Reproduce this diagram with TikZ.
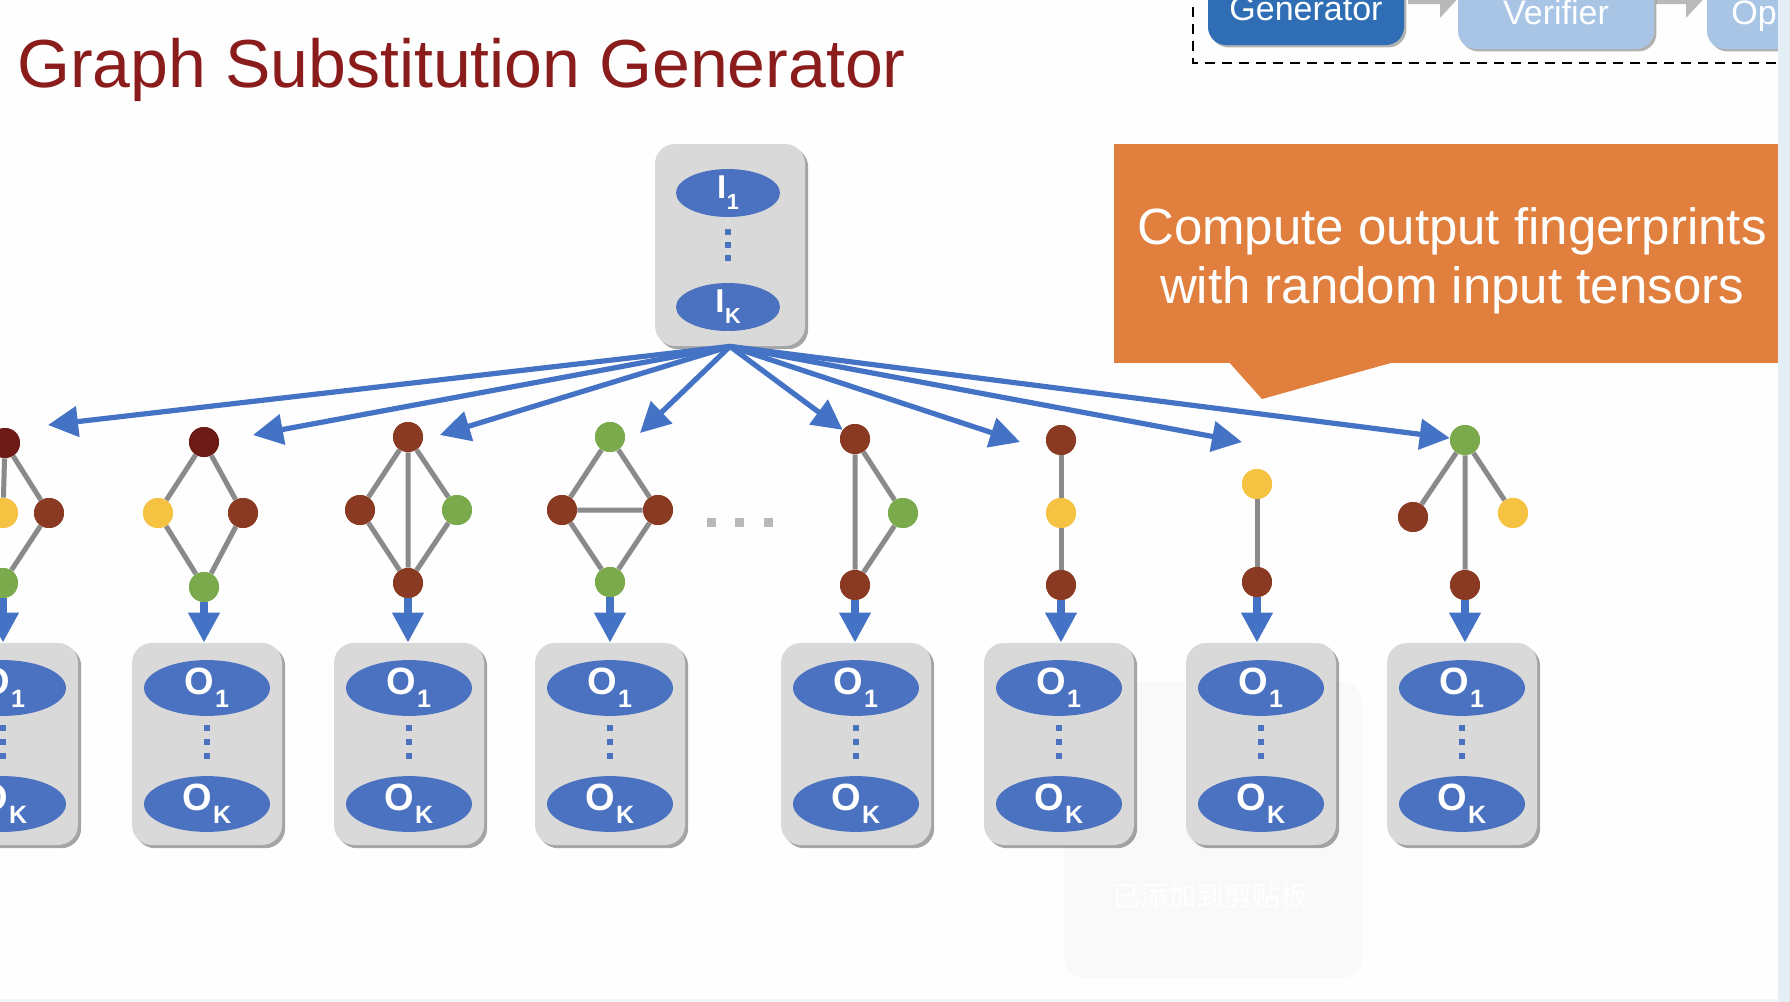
\documentclass[tikz,border=0pt]{standalone}
\usepackage{fontspec}
\usepackage{graphicx}
\setmainfont{Liberation Sans}
\newfontfamily\cjkfont{Noto Sans CJK SC}
\usetikzlibrary{shapes.geometric,arrows.meta,shadows}

\definecolor{titlered}{HTML}{8B1C1C}
\definecolor{arrowblue}{HTML}{4472C4}
\definecolor{ellblue}{HTML}{4A72C0}
\definecolor{boxgray}{HTML}{D9D9D9}
\definecolor{calloutorange}{HTML}{E07F3E}
\definecolor{genblue}{HTML}{2F6EB5}
\definecolor{verblue}{HTML}{A9C5E6}
\definecolor{darkred}{HTML}{6E1A16}
\definecolor{nodebrown}{HTML}{8A3A22}
\definecolor{nodeyellow}{HTML}{F5C242}
\definecolor{nodegreen}{HTML}{7AAA4C}
\definecolor{edgegray}{HTML}{8A8A8A}
\definecolor{dotgray}{HTML}{B8B8B8}
\definecolor{stripblue}{HTML}{E4EEF5}
\definecolor{pagebg}{HTML}{FEFEFE}
\definecolor{toastgray}{HTML}{F9F9F9}

% letter with a lowered, smaller index
\newcommand\iosub[2]{#1\kern0.3pt\raisebox{-0.34em}{\scalebox{0.66}{#2}}}

\begin{document}
\begin{tikzpicture}[x=0.5pt,y=-0.5pt,
  gn/.style={circle, inner sep=0pt, minimum size=15pt, fill=#1},
  gedge/.style={draw=edgegray, line width=2.5pt},
  fan/.style={draw=arrowblue, line width=2.6pt, -{Triangle[length=15pt,width=15pt]}},
  downarrow/.style={draw=arrowblue, line width=3.6pt, -{Triangle[length=15pt,width=15pt]}},
  iobox/.style={rectangle, rounded corners=10pt, fill=boxgray, minimum width=75pt,
    minimum height=101pt, inner sep=0pt,
    drop shadow={shadow xshift=1.6pt, shadow yshift=-1.6pt, fill=black, opacity=0.35}},
  inell/.style={ellipse, fill=ellblue, minimum width=52pt, minimum height=22pt, inner sep=0pt,
    text=white, font=\bfseries\fontsize{16.5}{16.5}\selectfont},
  outell/.style={ellipse, fill=ellblue, minimum width=63pt, minimum height=26.5pt, inner sep=0pt,
    text=white, font=\bfseries\fontsize{19}{19}\selectfont},
  button/.style={rectangle, rounded corners=9pt, inner sep=0pt, minimum width=98pt, minimum height=42pt,
    drop shadow={shadow xshift=1.2pt, shadow yshift=-1.2pt, fill=black, opacity=0.3}},
  btntext/.style={text=white, font=\fontsize{17}{17}\selectfont, inner sep=0pt, anchor=base},
]
\useasboundingbox (0,0) rectangle (1790,1002);
\fill[pagebg] (0,0) rectangle (1790,1002);

\begin{scope}
\clip (0,0) rectangle (1778,999);

% clipboard notice, lying under the slide content
\fill[toastgray, rounded corners=10pt] (1064,682) rectangle (1362,978);
\node[text=white, font=\cjkfont\fontsize{14}{14}\selectfont, inner sep=0pt] (toast) at (1210,896) {已添加到剪贴板};

% title
\node[anchor=base west, inner sep=0pt, text=titlered, font=\fontsize{34}{34}\selectfont]
  (title) at (17,87) {Graph Substitution Generator};

% pipeline strip at the top right
\draw[black, line width=1pt, dash pattern=on 5pt off 3.5pt] (1193,-10) -- (1193,63) -- (1800,63);
\fill[gray!55] (1408,-16) -- (1440,-16) -- (1440,-30) -- (1462,-6) -- (1440,18) -- (1440,4) -- (1408,4) -- cycle;
\fill[gray!55] (1656,-16) -- (1686,-16) -- (1686,-30) -- (1708,-6) -- (1686,18) -- (1686,4) -- (1656,4) -- cycle;
\node[button, fill=genblue] (gen) at (1306,3) {};
\node[button, fill=verblue] (ver) at (1556,7) {};
\node[button, fill=verblue] (opt) at (1805,7) {};
\node[btntext] (gentext) at (1306,20) {Generator};
\node[btntext] (vertext) at (1556,24) {Verifier};
\node[btntext, anchor=base west] (opttext) at (1731,24) {Op};

% input tensors
\node[iobox] (ib) at (730,245) {};
\node[inell] (i1) at (728,193) {\iosub{I}{1}};
\node[inell] (ik) at (728,307) {\iosub{I}{K}};
\foreach \yy in {232,245,258} \fill[ellblue] (725,\yy-3) rectangle (731,\yy+3);

% callout
\node[rectangle, fill=calloutorange, minimum width=332pt, minimum height=109.5pt, inner sep=0pt]
  (note) at (1446,253.5) {};
\fill[calloutorange] (1228,361) -- (1262,399) -- (1398,361) -- cycle;
\node[text=white, align=center, inner sep=0pt, font=\fontsize{25.5}{29.5}\selectfont]
  (notetext) at (1452,261) {Compute output fingerprints\\with random input tensors};

% candidate graphs
\node[gn=darkred]    (t0) at (5,443) {};
\node[gn=nodeyellow] (m0) at (3,513) {};
\node[gn=nodebrown]  (r0) at (49,513) {};
\node[gn=nodegreen]  (b0) at (3,583) {};

\node[gn=darkred]    (t1) at (204,442) {};
\node[gn=nodeyellow] (l1) at (158,513) {};
\node[gn=nodebrown]  (r1) at (243,513) {};
\node[gn=nodegreen]  (b1) at (204,587) {};

\node[gn=nodebrown]  (t2) at (408,437) {};
\node[gn=nodebrown]  (l2) at (360,510) {};
\node[gn=nodegreen]  (r2) at (457,510) {};
\node[gn=nodebrown]  (b2) at (408,583) {};

\node[gn=nodegreen]  (t3) at (610,437) {};
\node[gn=nodebrown]  (l3) at (562,510) {};
\node[gn=nodebrown]  (r3) at (658,510) {};
\node[gn=nodegreen]  (b3) at (610,582) {};

\node[gn=nodebrown]  (t4) at (855,439) {};
\node[gn=nodegreen]  (r4) at (903,513) {};
\node[gn=nodebrown]  (b4) at (855,585) {};

\node[gn=nodebrown]  (t5) at (1061,440) {};
\node[gn=nodeyellow] (m5) at (1061,513) {};
\node[gn=nodebrown]  (b5) at (1061,585) {};

\node[gn=nodeyellow] (t6) at (1257,484) {};
\node[gn=nodebrown]  (b6) at (1257,582) {};

\node[gn=nodegreen]  (t7) at (1465,440) {};
\node[gn=nodebrown]  (l7) at (1413,517) {};
\node[gn=nodeyellow] (r7) at (1513,513) {};
\node[gn=nodebrown]  (b7) at (1465,585) {};

% graph edges
\draw[gedge] (t0) -- (m0) (t0) -- (r0) (r0) -- (b0);
\draw[gedge] (t1) -- (l1) (t1) -- (r1) (l1) -- (b1) (r1) -- (b1);
\draw[gedge] (t2) -- (l2) (t2) -- (r2) (l2) -- (b2) (r2) -- (b2) (t2) -- (b2);
\draw[gedge] (t3) -- (l3) (t3) -- (r3) (l3) -- (b3) (r3) -- (b3) (l3) -- (r3);
\draw[gedge] (t4) -- (b4) (t4) -- (r4) (r4) -- (b4);
\draw[gedge] (t5) -- (m5) (m5) -- (b5);
\draw[gedge] (t6) -- (b6);
\draw[gedge] (t7) -- (l7) (t7) -- (r7) (t7) -- (b7);

% redraw graph nodes over their edges
\foreach \n/\c in {t0/darkred,m0/nodeyellow,r0/nodebrown,b0/nodegreen,
  t1/darkred,l1/nodeyellow,r1/nodebrown,b1/nodegreen,
  t2/nodebrown,l2/nodebrown,r2/nodegreen,b2/nodebrown,
  t3/nodegreen,l3/nodebrown,r3/nodebrown,b3/nodegreen,
  t4/nodebrown,r4/nodegreen,b4/nodebrown,
  t5/nodebrown,m5/nodeyellow,b5/nodebrown,
  t6/nodeyellow,b6/nodebrown,
  t7/nodegreen,l7/nodebrown,r7/nodeyellow,b7/nodebrown}
  \fill[\c] (\n.center) circle[radius=15];

% fan-out from the inputs
\coordinate (e0) at (48,425);
\coordinate (e1) at (253,435);
\coordinate (e2) at (440,435);
\coordinate (e3) at (640,433);
\coordinate (e5) at (1020,442);
\coordinate (e6) at (1242,442);
\foreach \e in {e0,e1,e2,e3,e5,e6} \draw[fan] (ib.south) -- (\e);
\draw[fan] (ib.south) -- (t4);
\draw[fan] (ib.south) -- (t7);

% output fingerprints
\foreach \i/\cx in {0/3,1/207,2/409,3/610,4/856,5/1059,6/1261,7/1462} {
  \node[iobox] (ob\i) at (\cx,744) {};
  \node[outell] (o\i a) at (\cx,688) {\iosub{O}{1}};
  \node[outell] (o\i b) at (\cx,804) {\iosub{O}{K}};
  \foreach \yy in {728,742,756} \fill[ellblue] (\cx-3,\yy-3) rectangle (\cx+3,\yy+3);
}
\foreach \i in {0,...,7} \draw[downarrow] (b\i) -- (b\i |- ob\i.north);

% more candidates
\foreach \xx in {711,739,768} \fill[dotgray] (\xx-4.5,517.5) rectangle (\xx+4.5,526.5);
\end{scope}

% window edge
\fill[stripblue] (1778,0) rectangle (1790,1002);
\fill[stripblue!60] (0,999) rectangle (1778,1002);
\end{tikzpicture}
\end{document}
